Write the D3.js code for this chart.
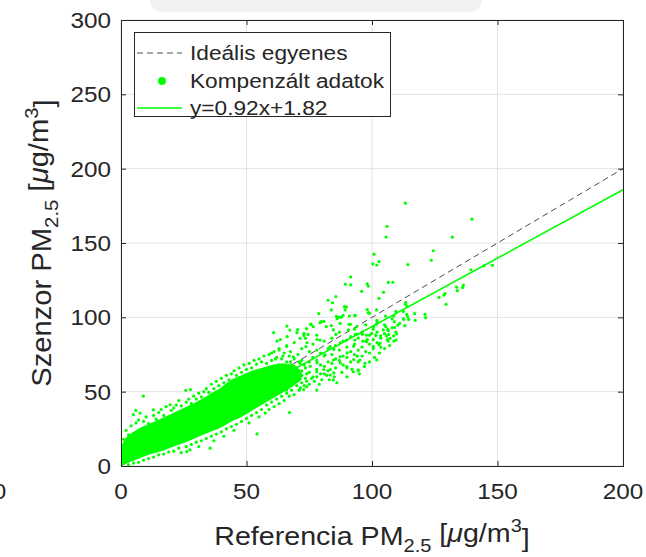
<!DOCTYPE html>
<html>
<head>
<meta charset="utf-8">
<script src="https://cdn.jsdelivr.net/npm/d3@7"></script>
<style>
  body { margin: 0; background: #fff; }
  text { font-family: "Liberation Sans", Arial, sans-serif; fill: #262626; }
</style>
</head>
<body>
<svg id="chart"></svg>
<script>
// ---- data ----
const xTicks = [0, 50, 100, 150, 200];
const yTicks = [0, 50, 100, 150, 200, 250, 300];

const idealLine = [[0, 0], [200, 200]];
const fitLine = [[0, 1.82], [200, 185.82]];

// dense core of the cloud: lower / upper edge
const coreX  = [0, 2, 5, 8, 12, 16, 20, 25, 30, 35, 40, 44, 48, 52, 56, 60, 64, 68, 72];
const coreHi = [13, 19, 23, 26, 29, 32, 35, 39, 43, 48, 53, 58, 61, 64, 66, 68, 69, 68, 64];
const coreLo = [0, 1.5, 3.5, 5.5, 8, 10, 12.5, 15.5, 19, 22.5, 26, 30, 33, 37, 41, 45, 49, 53, 58];

// loose points round the core
const edgePts = [
  [1,18],[2,24],[3,21],[4,27],[4.9,34.5],[5.9,37.4],[7.6,35.6],[8.9,47],[6,29],[7,31],[9,30],[10,33],
  [11,28.5],[12.9,37.8],[13,34],[14,31.5],[15,36],[16,38],[17,34],[18,40],[19.6,41.2],[20,37.5],[21,39],
  [22,41],[23,44],[24,40.5],[25.8,50.9],[27.7,51.4],[26,43],[27,45],[28,42],[29,47],[30,45],[31,49],
  [32,46.5],[33,50],[34,52],[35,49.5],[36,55],[37,52],[38,57],[39,54],[40,59],[41,56],[42,61],[43,58],
  [44,62],[45,64],[46,61],[47,66],[48,63],[49,68],[50,65],[51,69],[52,66],[53,71],[54,68.5],[55,72],
  [56,70],[57,74],[58,69],[59,75],[60,71],[61,77],[62,73],[63,79],[64,72],[65,76],[66,70],[67,74],
  [68,68],[69,72],[70,66],[71,70],[72,64],[73,68],[74,62],
  [3,0.8],[5,2],[7,2.5],[9,4],[11,5],[13,6],[15,7.5],[17,8],[19,9.5],[21,10],[23,12],[24,9],[26,13],
  [28,14.5],[30,16],[31,13],[32,17],[34,18.5],[36,20],[37,17],[38,21.5],[40,23],[41,20],[42,25],
  [44,26.5],[45,24],[46,28],[48,30],[50,32],[51,29],[52,34],[54,36],[55,33],[56,38],[58,41],[59,38],
  [60,43],[61,40],[62,45],[63,42],[64,47],[65,44],[66,49],[67,47],[68,51],[69,48],[70,54],[71,51],
  [72,56],[73,54],[74,57],[75,55],[76,59],[77,57],[78,60],[80,58],[82,61],[79,55],[81,62],[83,58],
  [85,60],[86,56],[88,63],[90,60],[92,65],[95,62],[97,67],[99,70],[101,73],[103,76],[105,79],[107,81]
];

// band of points beyond the core, along the fit
const bandPts = [
  [60,52],[60,58],[60,76],[61.5,50],[61.5,62],[61.5,72],[63,55],[63,68],[63,78],[64.5,53],[64.5,60],[64.5,74],
  [66,57],[66,65],[66,81],[67.5,54],[67.5,70],[67.5,77],[69,60],[69,67],[69,83],[70.5,58],[70.5,64],[70.5,75],
  [72,61],[72,71],[72,79],[73.5,59],[73.5,66],[73.5,86],[75,63],[75,70],[75,77],[76.5,60],[76.5,73],[76.5,82],
  [78,65],[78,71],[78,88],[79.5,62],[79.5,68],[79.5,76],[81,67],[81,74],[81,84],[82.5,64],[82.5,79],[82.5,70],
  [84,69],[84,75],[84,86],[85.5,66],[85.5,72],[85.5,81],[87,71],[87,78],[87,90],[88.5,68],[88.5,84],[88.5,74],
  [90,73],[90,80],[90,66],[91.5,70],[91.5,77],[91.5,87],[93,75],[93,82],[93,92],[94.5,78],[94.5,86],[94.5,70],
  [96,80],[96,74],[96,90],[97.5,77],[97.5,84],[97.5,95],[99,82],[99,88],[99,76],[100.5,85],[100.5,79],[100.5,92],
  [102,83],[102,90],[102,98],[103.5,86],[103.5,80],[105,89],[105,95],[106.5,91],[106.5,84],[108,93],[108,99],
  [109.5,90],[109.5,104],[111,96],[112.5,99],[112.5,104]
];

// sparse tail and outliers
const tailPts = [
  [72.9,89.2],[76.6,93.7],[79.3,96.4],[75.6,95.3],[71.3,85.9],[73.7,80.3],[78,78],[81.3,74.7],[84.6,71.3],
  [78,63.4],[83.3,61.2],[84.6,57.8],[87.3,73.5],[89.9,66.8],[92.6,63.4],[95.2,71.3],[97.2,69.1],[97.9,83.6],
  [99.9,89.2],[100.5,80.3],[103.2,82.5],[104.5,91.5],[107.2,85.9],[109.6,84.7],[101.9,71.3],[94.5,64.6],
  [83.3,80.3],[79.3,84.7],[84.6,91.5],[87.3,96],[90.6,91.5],[93.9,93.7],[89.9,84.7],[93.2,84.7],[66,80.3],
  [68.7,73.5],[71.3,69.1],[64.7,66.8],[68.7,60],[74,53.3],[78,51.1],[66,51.1],
  [113.3,176.8],[139.8,166],[106,161.2],[105.6,154],[132,153.9],[124.4,144.8],[123.6,138.4],[100.8,142.5],
  [100.3,136],[101.9,135.2],[102.8,137.5],[114.3,135.5],[139.4,132],[144.6,134.7],[148,135],[91.5,127.2],
  [89.4,122.3],[91.5,121.9],[98.1,122.5],[98.5,121],[106.5,123.5],[108.3,123.6],[95.9,117.5],[104.6,116.8],
  [102.8,112.8],[133.7,120.3],[136.4,121.6],[136.1,120.1],[134,117.9],[129.1,116],[128.7,115],[126.7,113.4],
  [129.5,108.8],[82.5,111.5],[85.6,114],[84.3,109.8],[89,107.2],[89.3,105],[83.8,105],[78.8,102.5],
  [85.8,100.7],[86.8,100.2],[87.7,100],[88.5,101.4],[86.1,99.1],[93.1,101.1],[98.1,105.2],[98.5,102.9],
  [99,102.7],[75.7,95.5],[73.9,92.4],[79.8,97.1],[80.8,97.3],[81.8,93.7],[83.8,94.4],[90.9,95.3],[91.4,95.3],
  [100.6,93.7],[101.8,95.3],[108.9,97.1],[110.3,94.8],[109,93.2],[112.7,98.6],[114.2,100.5],[105.5,93.7],
  [106.3,91.9],[67.3,91.4],[70.4,91.7],[72.8,87.8],[74.5,88.5],[85.6,88.5],[93.3,88.5],[94.3,88.8],
  [96.2,88.6],[97.8,88],[101.5,87.8],[103.4,87.5],[105.8,87.5],[106.7,88.5],[108.6,87.5],[109.8,88.8],
  [113.5,109.9],[113.3,108.8],[113.9,107.6],[113.8,102],[117,102.5],[121.1,102],[121.4,99.8],[114.6,98.6],
  [117.2,98],[113.1,94.4],[89.8,107],[91,100.9],[93.3,101.4],[98.7,103.2],[101.8,105],[102,96.4],
  [105.4,100.9],[108.7,100.9],[102.7,81.8],[106.1,85.1],[108.7,84],[96.3,84],[98.1,85.1],[92.7,71.6],
  [94.1,73.9],[90.1,76.1],[80.8,64.9],[78.1,69.4],[75.4,67.1],[87.4,69.4],[92.7,80.6],[84.8,78.4],
  [87.4,82.9],[78.1,85.1],[74.1,82.9],[70.1,89.7],[63.5,85.1],[60.8,89.7],[66.1,94.1],[62.2,84],[66.2,87],
  [94.5,64.2],[71.5,52.5],[72.8,51.4],[84.8,62.6],[83.4,64.9],[54.2,21.6],[67.1,36],[57.5,35.6],
  [35.5,12],[26.2,9.7],[27.5,10.8]
];

const legendLabels = ["Ideális egyenes", "Kompenzált adatok", "y=0.92x+1.82"];

// ---- drawing ----
const width = 646, height = 557;
const green = "#00ff00", axisCol = "#262626", gridCol = "#e3e3e3";
const sx = 1.08; // text in the picture looks a bit wide

const svg = d3.select("#chart").attr("width", width).attr("height", height);

const x = d3.scaleLinear().domain([0, 200]).range([121, 623]);
const y = d3.scaleLinear().domain([0, 300]).range([466, 20]);

// faint shape at the top edge
svg.append("rect").attr("x", 150).attr("y", -14).attr("width", 332).attr("height", 26)
  .attr("rx", 12).attr("fill", "#f2f2f2");

// grid
svg.append("g").selectAll("line").data(xTicks).join("line")
  .attr("x1", d => x(d)).attr("x2", d => x(d)).attr("y1", y(0)).attr("y2", y(300))
  .attr("stroke", gridCol);
svg.append("g").selectAll("line").data(yTicks).join("line")
  .attr("x1", x(0)).attr("x2", x(200)).attr("y1", d => y(d)).attr("y2", d => y(d))
  .attr("stroke", gridCol);

const line = d3.line().x(d => x(d[0])).y(d => y(d[1]));

// lines first, the points cover them inside the cloud
svg.append("path").datum(idealLine).attr("d", line)
  .attr("fill", "none").attr("stroke", "#4d4d4d").attr("stroke-width", 1).attr("stroke-dasharray", "6,4");
svg.append("path").datum(fitLine).attr("d", line)
  .attr("fill", "none").attr("stroke", green).attr("stroke-width", 1.6);

// scatter
const core = coreX.map((v, i) => [v, coreLo[i], coreHi[i]]);
svg.append("path").datum(core)
  .attr("d", d3.area().x(d => x(d[0])).y0(d => y(d[1])).y1(d => y(d[2])).curve(d3.curveCatmullRom))
  .attr("fill", green);

svg.append("g").selectAll("circle").data(edgePts.concat(bandPts, tailPts)).join("circle")
  .attr("cx", d => x(d[0])).attr("cy", d => y(d[1])).attr("r", 1.6).attr("fill", green);

// axes (box, inward ticks)
const gx = svg.append("g").attr("transform", `translate(0,${y(0)})`)
  .call(d3.axisBottom(x).tickValues(xTicks).tickSize(-5).tickFormat(""));
const gxt = svg.append("g").attr("transform", `translate(0,${y(300)})`)
  .call(d3.axisTop(x).tickValues(xTicks).tickSize(-5).tickFormat(""));
const gy = svg.append("g").attr("transform", `translate(${x(0)},0)`)
  .call(d3.axisLeft(y).tickValues(yTicks).tickSize(-5).tickFormat(""));
const gyr = svg.append("g").attr("transform", `translate(${x(200)},0)`)
  .call(d3.axisRight(y).tickValues(yTicks).tickSize(-5).tickFormat(""));
[gx, gxt, gy, gyr].forEach(g => {
  g.selectAll("path").attr("stroke", axisCol).attr("stroke-width", 1);
  g.selectAll("line").attr("stroke", axisCol);
});

function label(px, py, str, size, anchor) {
  return svg.append("text")
    .attr("transform", `translate(${px},${py}) scale(${sx},1)`)
    .attr("text-anchor", anchor).attr("font-size", size).text(str);
}

xTicks.forEach(t => label(x(t), 499, t, 22.5, "middle"));
yTicks.forEach(t => label(x(0) - 10, y(t) + 8, t, 22.5, "end"));
// cut-off tick label of the neighbouring panel
label(-14, 499, "200", 22.5, "middle");

// axis titles
function title(g, main) {
  g.append("tspan").text(main + "PM");
  g.append("tspan").attr("font-size", "70%").attr("dy", "0.35em").text("2.5");
  g.append("tspan").attr("dy", "-0.35em").text(" [");
  g.append("tspan").attr("font-style", "italic").text("\u03bc");
  g.append("tspan").text("g/m");
  g.append("tspan").attr("font-size", "70%").attr("dy", "-0.55em").text("3");
  g.append("tspan").attr("dy", "0.55em").text("]");
}
const xt = svg.append("text").attr("transform", `translate(${(x(0) + x(200)) / 2},545) scale(${sx},1)`)
  .attr("text-anchor", "middle").attr("font-size", 26.5);
title(xt, "Referencia ");
const yt = svg.append("text").attr("transform", `translate(51,${(y(0) + y(300)) / 2}) rotate(-90) scale(${sx},1)`)
  .attr("text-anchor", "middle").attr("font-size", 27);
title(yt, "Szenzor ");

// legend
const lg = svg.append("g");
lg.append("rect").attr("x", 134.5).attr("y", 32.5).attr("width", 256).attr("height", 84)
  .attr("fill", "#fff").attr("stroke", axisCol).attr("stroke-width", 1);
const rowY = [53, 81, 108];
lg.append("line").attr("x1", 137).attr("x2", 182).attr("y1", rowY[0]).attr("y2", rowY[0])
  .attr("stroke", "#4d4d4d").attr("stroke-dasharray", "6,4");
lg.append("circle").attr("cx", 162).attr("cy", rowY[1]).attr("r", 4).attr("fill", green);
lg.append("line").attr("x1", 137).attr("x2", 182).attr("y1", rowY[2]).attr("y2", rowY[2])
  .attr("stroke", green).attr("stroke-width", 1.6);
legendLabels.forEach((t, i) => label(190, rowY[i] + 7, t, 21, "start"));
</script>
</body>
</html>
